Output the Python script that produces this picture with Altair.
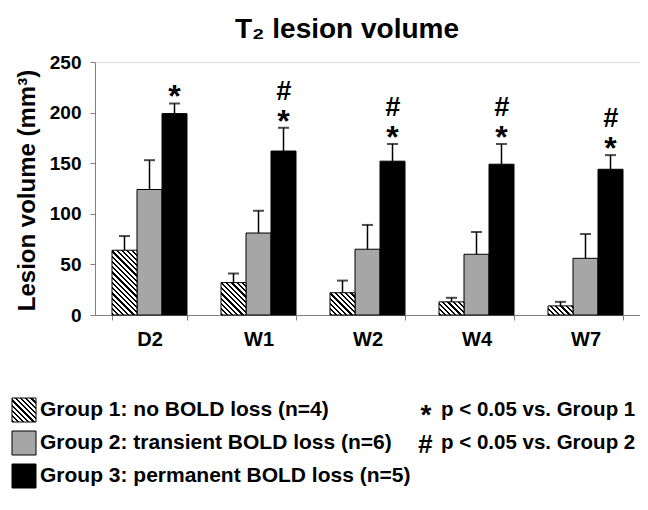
import math
import altair as alt
import pandas as pd

# ---------------- data ----------------
title_text = "T₂ lesion volume"
categories = ["D2", "W1", "W2", "W4", "W7"]
group_keys = ["g1", "g2", "g3"]
group_labels = [
    "Group 1: no BOLD loss (n=4)",
    "Group 2: transient BOLD loss (n=6)",
    "Group 3: permanent BOLD loss (n=5)",
]
g1_mean = [64, 32, 22, 13, 9]
g1_sd = [14, 9, 12, 4, 4]
g2_mean = [124, 81, 65, 60, 56]
g2_sd = [29, 22, 24, 22, 24]
g3_mean = [199, 162, 152, 149, 144]
g3_sd = [10, 23, 17, 20, 14]
sig_vs_g1 = [True, True, True, True, True]
sig_vs_g2 = [False, True, True, True, True]
sig_symbols = ["*", "#"]
sig_labels = ["p < 0.05 vs. Group 1", "p < 0.05 vs. Group 2"]
y_ticks = [0, 50, 100, 150, 200, 250]

# ---------------- layout / style ----------------
W, H = 545, 253
Y_MAX = 250
PX = H / Y_MAX
STEP = W / len(categories)
GROUP_W = 75
BAR_W = GROUP_W / 3
P_IN = 1 - GROUP_W / STEP
FONT = "Liberation Sans, Arial, Helvetica, sans-serif"
GRAY = "#a6a6a6"
AXIS_GRAY = "#808080"

means = [g1_mean, g2_mean, g3_mean]
sds = [g1_sd, g2_sd, g3_sd]
rows = []
for gi, g in enumerate(group_keys):
    for ci, c in enumerate(categories):
        rows.append({"cat": c, "grp": g, "mean": means[gi][ci],
                     "top": means[gi][ci] + sds[gi][ci]})
df = pd.DataFrame(rows)

ann = []
for ci, c in enumerate(categories):
    top = g3_mean[ci] + g3_sd[ci]
    if sig_vs_g1[ci]:
        ann.append({"cat": c, "grp": "g3", "top": top, "sym": sig_symbols[0]})
    if sig_vs_g2[ci]:
        ann.append({"cat": c, "grp": "g3", "top": top, "sym": sig_symbols[1]})
ann_df = pd.DataFrame(ann)


def hatch(w, h, period=3.7, line=1.6):
    """Diagonal '\\' hatch as a hard-stop linear gradient in bounding-box units."""
    L = (w + h) / math.sqrt(2)
    k = (w + h) / (w * w + h * h)
    stops = []
    i = 0
    while True:
        a = i * period / L
        if a >= 1:
            break
        b = min((i * period + line) / L, 1.0)
        stops += [{"offset": a, "color": "white"}, {"offset": a, "color": "black"},
                  {"offset": b, "color": "black"}, {"offset": b, "color": "white"}]
        i += 1
    return {"gradient": "linear", "stops": stops, "x1": 0, "y1": 1,
            "x2": k * w, "y2": 1 - k * h}


x_enc = alt.X("cat:N", sort=categories, title=None,
              scale=alt.Scale(domain=categories, paddingInner=P_IN, paddingOuter=P_IN / 2),
              axis=alt.Axis(labelAngle=0, tickBand="extent", tickSize=5, tickColor=AXIS_GRAY,
                            domainColor=AXIS_GRAY, labelFont=FONT, labelFontSize=20,
                            labelFontWeight="bold", labelColor="black", labelPadding=9))
xo_enc = alt.XOffset("grp:N", scale=alt.Scale(domain=group_keys, paddingInner=0, paddingOuter=0))
y_scale = alt.Scale(domain=[0, Y_MAX], nice=False)
y_axis = alt.Axis(values=y_ticks, grid=False, tickSize=5, tickColor=AXIS_GRAY, domainColor=AXIS_GRAY,
                  labelFont=FONT, labelFontSize=19, labelFontWeight="bold", labelColor="black",
                  labelPadding=9, title="Lesion volume (mm³)", titleFont=FONT, titleFontSize=24,
                  titleFontWeight="bold", titleColor="black", titleX=-56, titleY=128,
                  titleAngle=-90, titleBaseline="bottom", titleAlign="center")
y_enc = alt.Y("mean:Q", scale=y_scale, axis=y_axis)
y_top = alt.Y("top:Q", scale=y_scale, axis=y_axis)

base = alt.Chart(df)

# solid bars: groups 2 and 3
solid = base.transform_filter(alt.datum.grp != "g1").mark_bar(
    stroke="black", strokeWidth=1).encode(
    x=x_enc, xOffset=xo_enc, y=y_enc,
    fill=alt.Fill("grp:N", scale=alt.Scale(domain=["g2", "g3"], range=[GRAY, "black"]), legend=None))

# hatched bars: group 1 (one layer per bar so the hatch keeps its 45 degree angle)
hatched = []
for ci, c in enumerate(categories):
    hatched.append(
        alt.Chart(df[(df.grp == "g1") & (df.cat == c)]).mark_bar(
            fill=hatch(BAR_W, g1_mean[ci] * PX), stroke="black", strokeWidth=1).encode(
            x=x_enc, xOffset=xo_enc, y=y_enc))

err_rule = base.mark_rule(color="black", strokeWidth=1.5).encode(
    x=x_enc, xOffset=xo_enc, y=y_enc, y2="top:Q")
err_cap = base.mark_tick(color="black", thickness=2, size=11, orient="horizontal").encode(
    x=x_enc, xOffset=xo_enc, y=y_top)

star = alt.Chart(ann_df).transform_filter(alt.datum.sym == "*").mark_text(
    font=FONT, fontSize=32, fontWeight="bold", baseline="alphabetic", dy=4, color="black").encode(
    x=x_enc, xOffset=xo_enc, y=y_top, text="sym:N")
hashm = alt.Chart(ann_df).transform_filter(alt.datum.sym == "#").mark_text(
    font=FONT, fontSize=27, fontWeight="bold", fontStyle="italic", baseline="alphabetic", dy=-28,
    color="black").encode(
    x=x_enc, xOffset=xo_enc, y=y_top, text="sym:N")

# ---------------- title & legend (layout in pixels) ----------------
title = alt.Chart(pd.DataFrame({"t": [title_text]})).mark_text(
    font=FONT, fontSize=28, fontWeight="bold", align="center", baseline="alphabetic",
    color="black").encode(x=alt.value(252), y=alt.value(-24), text="t:N")

row_y = [348, 381, 414]
sw_x, sw = -83, 24
legend_layers = []
swatch_fills = [hatch(sw, sw), GRAY, "black"]
for i, lab in enumerate(group_labels):
    one = pd.DataFrame({"label": [lab]})
    legend_layers.append(
        alt.Chart(one).mark_rect(fill=swatch_fills[i], stroke="black", strokeWidth=1).encode(
            x=alt.value(sw_x), x2=alt.value(sw_x + sw),
            y=alt.value(row_y[i] - sw / 2), y2=alt.value(row_y[i] + sw / 2)))
    legend_layers.append(
        alt.Chart(one).mark_text(font=FONT, fontSize=21, fontWeight="bold", align="left",
                                 baseline="middle", color="black").encode(
            x=alt.value(-55), y=alt.value(row_y[i]), text="label:N"))
for i, lab in enumerate(sig_labels):
    one = pd.DataFrame({"label": [lab], "sym": [sig_symbols[i]]})
    if i == 0:
        legend_layers.append(
            alt.Chart(one).mark_text(font=FONT, fontSize=28, fontWeight="bold", align="center",
                                     baseline="alphabetic", color="black").encode(
                x=alt.value(331), y=alt.value(row_y[i] + 14), text="sym:N"))
    else:
        legend_layers.append(
            alt.Chart(one).mark_text(font=FONT, fontSize=26, fontWeight="bold", fontStyle="italic",
                                     align="center", baseline="alphabetic", color="black").encode(
                x=alt.value(330), y=alt.value(row_y[i] + 10), text="sym:N"))
    legend_layers.append(
        alt.Chart(one).mark_text(font=FONT, fontSize=20.5, fontWeight="bold", align="left",
                                 baseline="middle", color="black").encode(
            x=alt.value(346), y=alt.value(row_y[i]), text="label:N"))

chart = alt.layer(solid, *hatched, err_rule, err_cap, star, hashm, title, *legend_layers).properties(
    width=W, height=H,
    autosize=alt.AutoSizeParams(type="none"),
    padding={"left": 87, "top": 54, "right": 0, "bottom": 187},
).configure_view(stroke=None).configure(background="white")

chart.save("out.html", embed_options={"renderer": "svg", "actions": False})
